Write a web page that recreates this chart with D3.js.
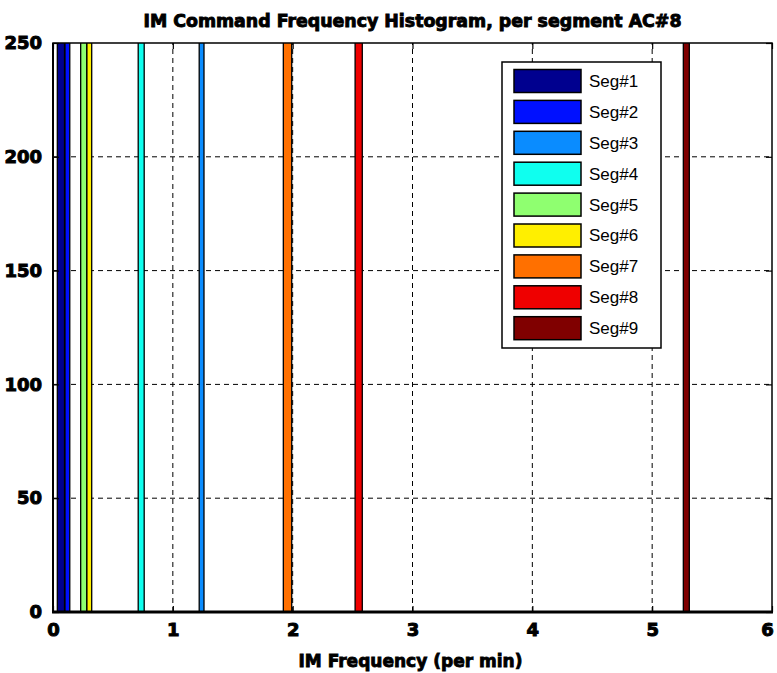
<!DOCTYPE html>
<html>
<head>
<meta charset="utf-8">
<script src="https://cdn.jsdelivr.net/npm/d3@7"></script>
<style>
  html, body { margin: 0; padding: 0; background: #fff; }
  svg { display: block; }
</style>
</head>
<body>
<svg id="chart" width="777" height="673"></svg>
<script>
// ---- data ----
const seriesNames = ["Seg#1", "Seg#2", "Seg#3", "Seg#4", "Seg#5", "Seg#6", "Seg#7", "Seg#8", "Seg#9"];
const seriesColors = ["#00008f", "#0010ff", "#0a8cff", "#0fffef", "#8fff70", "#ffef00", "#ff7000", "#ef0000", "#800000"];
const binCenters = [0.066, 0.12, 1.24, 0.736, 0.256, 0.303, 1.957, 2.551, 5.285];
const binWidths = [0.06, 0.04, 0.04, 0.05, 0.05, 0.04, 0.07, 0.06, 0.05];
const counts = [300, 300, 300, 300, 300, 300, 300, 300, 300];
const xTicks = [0, 1, 2, 3, 4, 5, 6];
const yTicks = [0, 50, 100, 150, 200, 250];
const titleText = "IM Command Frequency Histogram, per segment AC#8";
const xLabelText = "IM Frequency (per min)";

// ---- layout ----
const svg = d3.select("#chart");
const L = 53, R = 772, T = 43, B = 612;
const x = d3.scaleLinear().domain([0, 6]).range([L, R]);
const y = d3.scaleLinear().domain([0, 250]).range([B, T]);

svg.append("defs").append("clipPath").attr("id", "plotclip")
  .append("rect").attr("x", L).attr("y", T).attr("width", R - L).attr("height", B - T);

// grid
const grid = svg.append("g").attr("stroke", "#000").attr("stroke-width", 1)
  .attr("stroke-dasharray", "5,4").attr("fill", "none");
xTicks.filter(d => d > 0 && d < 6).forEach(d => {
  grid.append("line").attr("x1", x(d)).attr("x2", x(d)).attr("y1", B).attr("y2", T);
});
yTicks.filter(d => d > 0 && d < 250).forEach(d => {
  grid.append("line").attr("x1", L).attr("x2", R).attr("y1", y(d)).attr("y2", y(d));
});

// bars
const bars = svg.append("g").attr("clip-path", "url(#plotclip)");
seriesNames.forEach((name, i) => {
  const x0 = x(binCenters[i] - binWidths[i] / 2);
  const x1 = x(binCenters[i] + binWidths[i] / 2);
  bars.append("rect")
    .attr("x", x0).attr("width", x1 - x0)
    .attr("y", y(counts[i])).attr("height", y(0) - y(counts[i]))
    .attr("fill", seriesColors[i])
    .attr("stroke", "#000").attr("stroke-width", 1.3);
});

// axes box
const axisG = svg.append("g");
axisG.append("rect").attr("x", L).attr("y", T).attr("width", R - L).attr("height", B - T)
  .attr("fill", "none").attr("stroke", "#000").attr("stroke-width", 1.5);
axisG.append("line").attr("x1", L - 1).attr("x2", R + 1).attr("y1", B).attr("y2", B)
  .attr("stroke", "#000").attr("stroke-width", 3);
axisG.append("line").attr("x1", L).attr("x2", L).attr("y1", T).attr("y2", B)
  .attr("stroke", "#000").attr("stroke-width", 2);

// ticks (inward) via d3 axes
const tickLen = 6;
const axB = svg.append("g").attr("transform", `translate(0,${B})`)
  .call(d3.axisBottom(x).tickValues(xTicks).tickSize(-tickLen).tickPadding(10).tickFormat(d3.format("d")));
const axT = svg.append("g").attr("transform", `translate(0,${T})`)
  .call(d3.axisTop(x).tickValues(xTicks).tickSize(-tickLen).tickFormat(""));
const axL = svg.append("g").attr("transform", `translate(${L},0)`)
  .call(d3.axisLeft(y).tickValues(yTicks).tickSize(-tickLen).tickPadding(10).tickFormat(d3.format("d")));
const axR = svg.append("g").attr("transform", `translate(${R},0)`)
  .call(d3.axisRight(y).tickValues(yTicks).tickSize(-tickLen).tickFormat(""));
[axB, axT, axL, axR].forEach(a => {
  a.select(".domain").remove();
  a.selectAll(".tick line").attr("stroke", "#000").attr("stroke-width", 1.2);
});
[axB, axL].forEach(a => {
  a.selectAll(".tick text")
    .attr("font-family", "'DejaVu Sans', sans-serif")
    .attr("font-weight", "bold")
    .attr("font-size", 18)
    .attr("fill", "#000")
    .attr("stroke", "#000").attr("stroke-width", 1);
});
axB.selectAll(".tick text").attr("dy", "0.8em");
// keep the last x label inside the page
axB.selectAll(".tick text").filter(d => d === xTicks[xTicks.length - 1]).attr("dx", -5);
axL.selectAll(".tick text").attr("dx", "-1");

// title
svg.append("text")
  .attr("x", (L + R) / 2).attr("y", 27)
  .attr("text-anchor", "middle")
  .attr("font-family", "'DejaVu Sans', sans-serif")
  .attr("font-weight", "bold").attr("font-size", 17)
  .attr("textLength", 538).attr("lengthAdjust", "spacingAndGlyphs")
  .attr("stroke", "#000").attr("stroke-width", 0.9)
  .text(titleText);

// x label
svg.append("text")
  .attr("x", (L + R) / 2 - 2).attr("y", 667)
  .attr("text-anchor", "middle")
  .attr("font-family", "'DejaVu Sans', sans-serif")
  .attr("font-weight", "bold").attr("font-size", 18)
  .attr("textLength", 224).attr("lengthAdjust", "spacingAndGlyphs")
  .attr("stroke", "#000").attr("stroke-width", 0.9)
  .text(xLabelText);

// legend
const lgX = 502, lgY = 62, lgW = 159, lgH = 286;
const lg = svg.append("g");
lg.append("rect").attr("x", lgX).attr("y", lgY).attr("width", lgW).attr("height", lgH)
  .attr("fill", "#fff").attr("stroke", "#000").attr("stroke-width", 1.5);
const rowStep = 30.9;
seriesNames.forEach((name, i) => {
  const cy = 81 + i * rowStep;
  lg.append("rect").attr("x", 514).attr("y", cy - 11.5).attr("width", 67).attr("height", 23)
    .attr("fill", seriesColors[i]).attr("stroke", "#000").attr("stroke-width", 1.5);
  lg.append("text").attr("x", 589).attr("y", cy).attr("dy", "0.35em")
    .attr("font-family", "'Liberation Sans', Arial, sans-serif")
    .attr("font-size", 17).attr("fill", "#000")
    .text(name);
});
</script>
</body>
</html>
